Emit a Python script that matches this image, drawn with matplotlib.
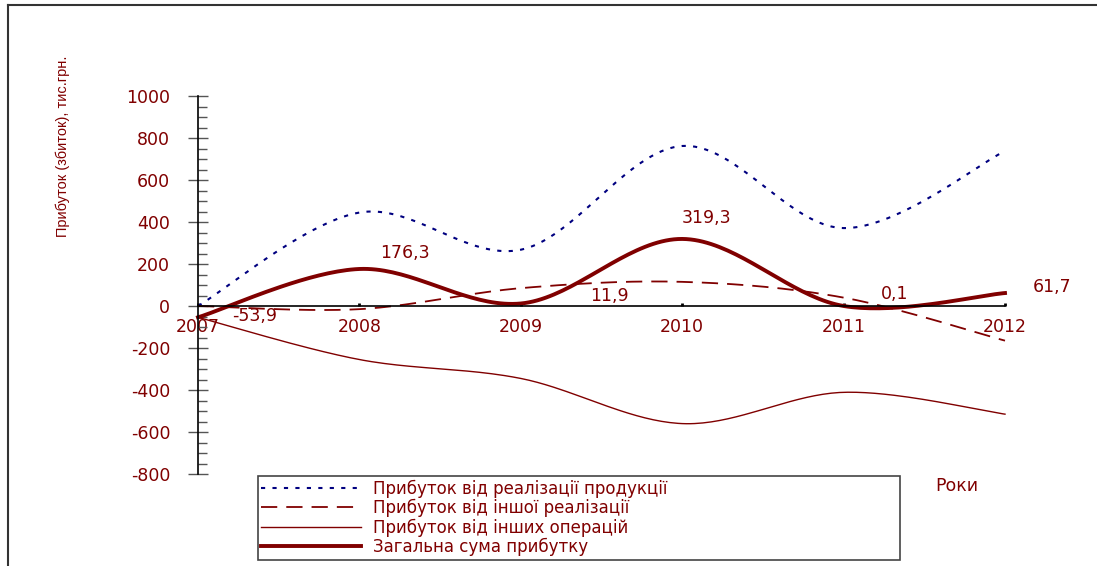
import numpy as np
import matplotlib
matplotlib.use('Agg')
import matplotlib.pyplot as plt
from matplotlib.lines import Line2D

RED = '#800000'
BLUE = '#000080'

years = [2007, 2008, 2009, 2010, 2011, 2012]
sales_profit = [0, 445, 268, 762, 371, 738]         # Прибуток від реалізації продукції
other_sales = [0, -15, 85, 115, 40, -165]           # Прибуток від іншої реалізації
other_ops = [-54, -255, -345, -560, -411, -515]     # Прибуток від інших операцій
total = [-53.9, 176.3, 11.9, 319.3, 0.1, 61.7]      # Загальна сума прибутку
total_labels = ['-53,9', '176,3', '11,9', '319,3', '0,1', '61,7']
# label offsets from the point, pixels
label_offsets = [(57, 1), (46, 16), (89, 8), (24, 21), (51, 12), (47, 6)]

y_ticks = [-800, -600, -400, -200, 0, 200, 400, 600, 800, 1000]


def smooth(xs, ys, n=40):
    # Excel-like smoothed line (Catmull-Rom as cubic Bezier)
    pts = np.column_stack([xs, ys]).astype(float)
    p = np.vstack([pts[0], pts, pts[-1]])
    out = []
    t = np.linspace(0, 1, n)[:, None]
    for i in range(1, len(p) - 2):
        p0, p1, p2, p3 = p[i - 1], p[i], p[i + 1], p[i + 2]
        c1 = p1 + (p2 - p0) / 6
        c2 = p2 - (p3 - p1) / 6
        seg = ((1 - t) ** 3 * p1 + 3 * (1 - t) ** 2 * t * c1
               + 3 * (1 - t) * t ** 2 * c2 + t ** 3 * p2)
        out.append(seg if i == 1 else seg[1:])
    s = np.vstack(out)
    return s[:, 0], s[:, 1]


plt.rcParams['font.family'] = ['DejaVu Sans']
plt.rcParams['axes.unicode_minus'] = False

fig = plt.figure(figsize=(10.97, 5.66), dpi=100)
ax = fig.add_axes([198 / 1097, 1 - 474 / 566, 807 / 1097, 378 / 566])

styles = [
    (sales_profit, dict(color=BLUE, lw=1.5, dashes=(2, 3.5)),
     'Прибуток від реалізації продукції'),
    (other_sales, dict(color=RED, lw=1.3, dashes=(9, 5)),
     'Прибуток від іншої реалізації'),
    (other_ops, dict(color=RED, lw=1.0),
     'Прибуток від інших операцій'),
    (total, dict(color=RED, lw=2.8),
     'Загальна сума прибутку'),
]
for vals, kw, name in styles:
    sx, sy = smooth(years, vals)
    ax.plot(sx, sy, label=name, clip_on=False, **kw)

for x, v, txt, off in zip(years, total, total_labels, label_offsets):
    ax.annotate(txt, (x, v), xytext=off, textcoords='offset pixels',
                ha='center', va='center', color=RED, fontsize=12.5)

ax.set_xlim(2007, 2012)
ax.set_ylim(-800, 1000)
ax.set_yticks(y_ticks)
ax.set_yticks(np.arange(-800, 1001, 50), minor=True)
ax.set_xticks(years)

for s in ['top', 'right']:
    ax.spines[s].set_visible(False)
ax.spines['bottom'].set_position(('data', 0))
ax.spines['bottom'].set_linewidth(1.2)
ax.spines['left'].set_linewidth(1.2)

ax.tick_params(axis='y', which='major', direction='inout', length=14,
               width=1, color='#555555', labelcolor=RED, labelsize=12.5, pad=13)
ax.tick_params(axis='y', which='minor', direction='in', length=6.5,
               width=1, color='#555555')
ax.tick_params(axis='x', which='major', direction='in', length=2.5,
               width=2, color='black', labelcolor=RED, labelsize=12.5, pad=9)
ax.tick_params(axis='x', which='minor', length=0)

leg = ax.legend(loc='upper left', bbox_to_anchor=(258 / 1097, 1 - 476 / 566, 642 / 1097, 0),
                bbox_transform=fig.transFigure, mode='expand', fontsize=12,
                handlelength=6, handletextpad=0.7, borderpad=0.2, labelspacing=0.08,
                fancybox=False, framealpha=1, edgecolor='#444444', borderaxespad=0)
leg.get_frame().set_linewidth(1.2)
for t in leg.get_texts():
    t.set_color(RED)

fig.text(957 / 1097, 1 - 486 / 566, 'Роки', color=RED, fontsize=12.5,
         ha='center', va='center')
fig.text(63 / 1097, 1 - 146 / 566, 'Прибуток (збиток), тис.грн.', color=RED,
         fontsize=10.5, rotation=90, ha='center', va='center',
         family=['Liberation Sans Narrow', 'Liberation Sans'])

# outer frame (left and top edges only)
fig.add_artist(Line2D([8 / 1097, 8 / 1097], [0, 1 - 5 / 566], transform=fig.transFigure,
                      color='#333333', lw=1.5))
fig.add_artist(Line2D([8 / 1097, 1], [1 - 5 / 566, 1 - 5 / 566], transform=fig.transFigure,
                      color='#333333', lw=1.5))

fig.savefig('out.png', dpi=100)
